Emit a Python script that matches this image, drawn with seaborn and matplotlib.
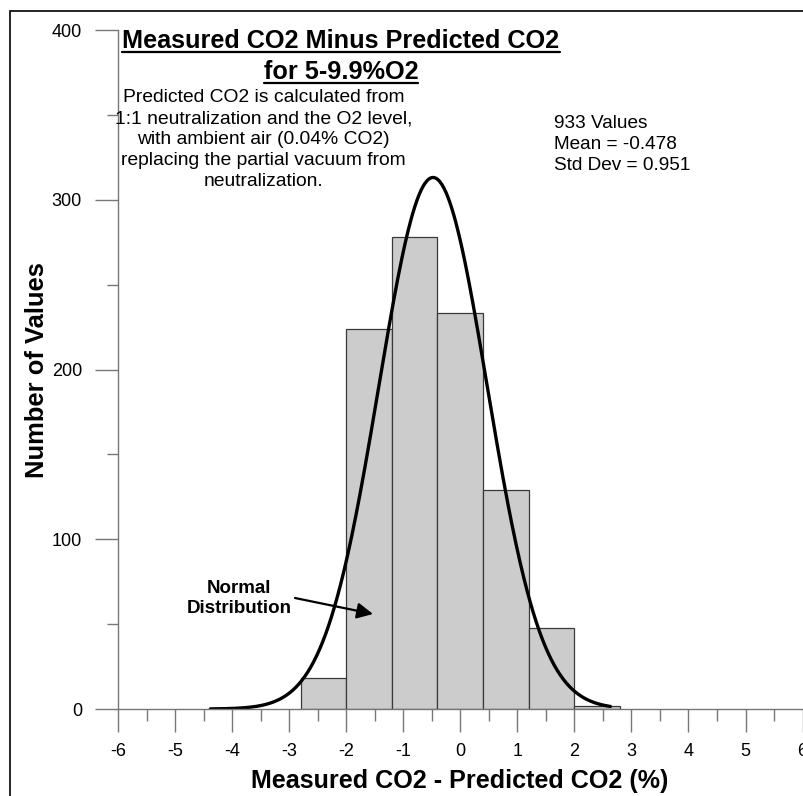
import numpy as np
import matplotlib
matplotlib.use("Agg")
import matplotlib.pyplot as plt
from matplotlib.lines import Line2D
from matplotlib.patches import Rectangle
from matplotlib.ticker import MultipleLocator
import seaborn as sns

# ---- data ----
bin_edges = [-2.8, -2.0, -1.2, -0.4, 0.4, 1.2, 2.0, 2.8]
counts = [18, 224, 278, 233, 129, 48, 2]
n_values = 933
mean_val = -0.478
std_val = 0.951
curve_start, curve_end = -4.38, 2.63

x_ticks = [-6, -5, -4, -3, -2, -1, 0, 1, 2, 3, 4, 5, 6]
y_ticks = [0, 100, 200, 300, 400]

title_lines = ["Measured CO2 Minus Predicted CO2", "for 5-9.9%O2"]
note_lines = ["Predicted CO2 is calculated from",
              "1:1 neutralization and the O2 level,",
              "with ambient air (0.04% CO2)",
              "replacing the partial vacuum from",
              "neutralization."]
stats_lines = [f"{n_values} Values", f"Mean = {mean_val}", f"Std Dev = {std_val}"]

sns.set_style("white")
plt.rcParams['font.family'] = ['Liberation Sans', 'DejaVu Sans']
plt.rcParams['axes.unicode_minus'] = False
plt.rcParams['text.color'] = 'black'
plt.rcParams['axes.labelcolor'] = 'black'

W, H = 804, 796
fig = plt.figure(figsize=(W / 100, H / 100), dpi=100)
def fx(px): return px / W
def fy(py): return 1 - py / H

ax = fig.add_axes([fx(118), fy(709), 686 / W, 679 / H])

centers = [(a + b) / 2 for a, b in zip(bin_edges[:-1], bin_edges[1:])]
sns.histplot(x=centers, weights=counts, bins=bin_edges, ax=ax,
             color="#cccccc", alpha=1, edgecolor="#3a3a3a", linewidth=0.9)

bw = bin_edges[1] - bin_edges[0]
xs = np.linspace(curve_start, curve_end, 400)
ys = n_values * bw / (std_val * np.sqrt(2 * np.pi)) * np.exp(-0.5 * ((xs - mean_val) / std_val) ** 2)
sns.lineplot(x=xs, y=ys, ax=ax, color="black", linewidth=2.4, estimator=None, sort=False)

ax.set_xlim(-6, -6 + 686 / 57.05)
ax.set_ylim(0, 400)
ax.set_xticks(x_ticks)
ax.set_yticks(y_ticks)
ax.xaxis.set_minor_locator(MultipleLocator(0.5))
ax.yaxis.set_minor_locator(MultipleLocator(50))
axcol = "#777777"
for s in ["top", "right"]:
    ax.spines[s].set_visible(False)
for s in ["left", "bottom"]:
    ax.spines[s].set_color(axcol)
    ax.spines[s].set_linewidth(1.0)
ax.tick_params(axis="both", which="both", direction="out", color=axcol, width=1.0,
               labelsize=13, labelcolor="black")
ax.tick_params(axis="x", which="major", length=16.6, pad=8)
ax.tick_params(axis="x", which="minor", length=8.6)
ax.tick_params(axis="y", which="major", length=16.6, pad=9.4)
ax.tick_params(axis="y", which="minor", length=8.0)
ax.tick_params(left=True, bottom=True, which="both")

ax.set_xlabel("Measured CO2 - Predicted CO2 (%)", fontsize=18.1, fontweight="bold", va="baseline",
              color="black")
ax.xaxis.set_label_coords((460 - 118) / 686, (709 - 788) / 679)
ax.set_ylabel("Number of Values", fontsize=18.4, fontweight="bold", va="baseline",
              rotation_mode="anchor", color="black")
ax.yaxis.set_label_coords((44 - 118) / 686, (709 - 370) / 679)

# title with underline
title_objs = []
for line, by in zip(title_lines, [48.5, 79]):
    t = fig.text(fx(341), fy(by), line, ha="center", va="baseline",
                 fontsize=18.2, fontweight="bold", color="black")
    title_objs.append((t, by))

for line, by in zip(note_lines, [102, 123, 144, 165, 186]):
    fig.text(fx(263.5), fy(by), line, ha="center", va="baseline", fontsize=13.9, color="black")

for line, by in zip(stats_lines, [128, 149, 170]):
    fig.text(fx(554), fy(by), line, ha="left", va="baseline", fontsize=13.7, color="black")

for line, by in zip(["Normal", "Distribution"], [592.7, 613.3]):
    fig.text(fx(239), fy(by), line, ha="center", va="baseline", fontsize=13.5,
             fontweight="bold", color="black")

x0d = ax.transData.inverted().transform((295, H - 598))
x1d = ax.transData.inverted().transform((373, H - 614))
ax.annotate("", xy=tuple(x1d), xytext=tuple(x0d),
            arrowprops=dict(arrowstyle="-|>", color="black", lw=1.6, mutation_scale=24,
                            shrinkA=0, shrinkB=0))

fig.canvas.draw()
r = fig.canvas.get_renderer()
for t, by in title_objs:
    bb = t.get_window_extent(r)
    yline = H - (by + 3.5)
    fig.add_artist(Line2D([bb.x0 / W, bb.x1 / W], [yline / H, yline / H],
                          transform=fig.transFigure, color="black", linewidth=1.6))

# outer frame (cropped on right/bottom)
fig.add_artist(Rectangle((fx(10.5), -0.1), 1.2, fy(11) + 0.1, transform=fig.transFigure,
                         fill=False, edgecolor="black", linewidth=1.2))

fig.savefig("out.png", dpi=100)
